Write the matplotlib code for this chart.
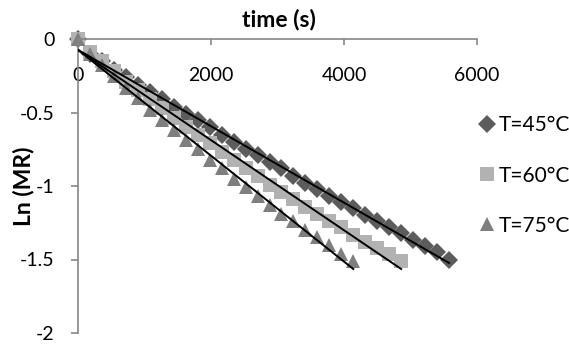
import numpy as np
import matplotlib
matplotlib.use('Agg')
import matplotlib.pyplot as plt

plt.rcParams['font.family'] = ['Lato', 'DejaVu Sans']

# T = 45 C
t45 = [0, 180, 360, 540, 720, 900, 1080, 1260, 1440, 1620, 1800, 1980, 2160,
       2340, 2520, 2700, 2880, 3060, 3240, 3420, 3600, 3780, 3960, 4140, 4320,
       4500, 4680, 4860, 5040, 5220, 5400, 5580]
ln45 = [0.00, -0.10, -0.15, -0.21, -0.26, -0.31, -0.36, -0.41, -0.46, -0.51,
        -0.55, -0.60, -0.65, -0.70, -0.75, -0.79, -0.84, -0.88, -0.93, -0.98,
        -1.02, -1.07, -1.11, -1.15, -1.20, -1.24, -1.28, -1.32, -1.37, -1.41,
        -1.45, -1.50]

# T = 60 C
t60 = [0, 180, 360, 540, 720, 900, 1080, 1260, 1440, 1620, 1800, 1980, 2160,
       2340, 2520, 2700, 2880, 3060, 3240, 3420, 3600, 3780, 3960, 4140, 4320,
       4500, 4680, 4860]
ln60 = [0.00, -0.09, -0.15, -0.22, -0.29, -0.35, -0.41, -0.47, -0.54, -0.60,
        -0.65, -0.71, -0.77, -0.82, -0.88, -0.93, -0.99, -1.04, -1.09, -1.14,
        -1.19, -1.24, -1.28, -1.33, -1.38, -1.42, -1.46, -1.51]

# T = 75 C
t75 = [0, 180, 360, 540, 720, 900, 1080, 1260, 1440, 1620, 1800, 1980, 2160,
       2340, 2520, 2700, 2880, 3060, 3240, 3420, 3600, 3780, 3960, 4140]
ln75 = [0.00, -0.10, -0.18, -0.25, -0.33, -0.40, -0.48, -0.55, -0.62, -0.69,
        -0.75, -0.82, -0.88, -0.95, -1.01, -1.07, -1.13, -1.19, -1.24, -1.30,
        -1.35, -1.40, -1.46, -1.51]

labels = ['T=45°C', 'T=60°C', 'T=75°C']
series = [(t45, ln45), (t60, ln60), (t75, ln75)]
markers = ['D', 's', '^']
sizes = [9.5, 10, 10]
colors = ['#5c5c5c', '#b2b2b2', '#7f7f7f']

fig = plt.figure(figsize=(5.69, 3.46), dpi=100)
ax = fig.add_axes([78 / 569, 1 - 333 / 346, 399 / 569, 294 / 346])

handles = []
for (t, y), m, s, c, lab in zip(series, markers, sizes, colors, labels):
    h, = ax.plot(t, y, linestyle='none', marker=m, markersize=s, color=c,
                 markeredgewidth=0, label=lab, clip_on=False)
    handles.append(h)

# linear trend lines
for t, y in series:
    k, b = np.polyfit(t, y, 1)
    xs = np.array([0, t[-1]])
    ax.plot(xs, k * xs + b, color='black', linewidth=1.4, zorder=5)

ax.set_xlim(0, 6000)
ax.set_ylim(-2, 0)
ax.set_xticks([0, 2000, 4000, 6000])
ax.set_yticks([-2, -1.5, -1, -0.5, 0])
ax.set_yticklabels(['-2', '-1.5', '-1', '-0.5', '0'])

ax.spines['right'].set_visible(False)
ax.spines['top'].set_visible(False)
ax.spines['bottom'].set_position(('data', 0))
for sp in ['left', 'bottom']:
    ax.spines[sp].set_color('#868686')
    ax.spines[sp].set_linewidth(1.2)

ax.tick_params(axis='x', direction='out', length=4.5, width=1.2, color='#868686',
               labelsize=14, pad=16)
ax.tick_params(axis='y', direction='out', length=5, width=1.2, color='#868686',
               labelsize=14, pad=12)

fig.text(279 / 569, 1 - 19 / 346, 'time (s)', ha='center', va='center',
         fontsize=16.5, fontweight='bold')
fig.text(23 / 569, 1 - 186 / 346, 'Ln (MR)', ha='center', va='center',
         rotation=90, fontsize=16.5, fontweight='bold')

fig.legend(handles=handles, loc='upper left', bbox_to_anchor=(470 / 569, 1 - 107 / 346),
           frameon=False, fontsize=15, handlelength=0.8, handletextpad=0.2,
           labelspacing=1.45, numpoints=1, borderaxespad=0)

fig.savefig('out.png', dpi=100)
